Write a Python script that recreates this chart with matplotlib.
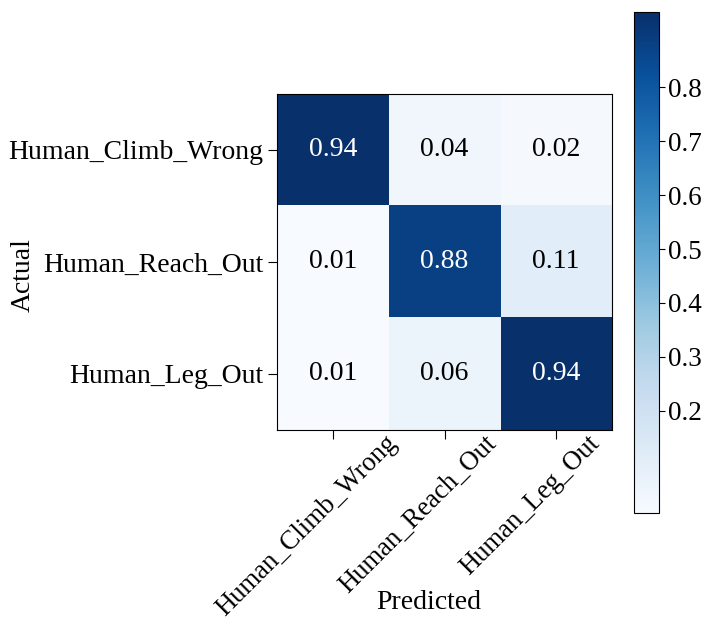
import numpy as np
import matplotlib
matplotlib.use("Agg")
import matplotlib.pyplot as plt
from matplotlib.transforms import ScaledTranslation

plt.rcParams['font.family'] = ['Liberation Serif', 'DejaVu Serif']
plt.rcParams['font.size'] = 20
plt.rcParams['xtick.major.size'] = 6.5
plt.rcParams['ytick.major.size'] = 6.5

classes = ["Human_Climb_Wrong", "Human_Reach_Out", "Human_Leg_Out"]
conf = np.array([
    [0.94, 0.04, 0.02],
    [0.01, 0.88, 0.11],
    [0.01, 0.06, 0.94],
])
cbar_ticks = [0.2, 0.3, 0.4, 0.5, 0.6, 0.7, 0.8]

fig = plt.figure(figsize=(7.04, 6.24), dpi=100)
ax = fig.add_axes([0.3935, 0.3109, 0.4759, 0.5385])
cax = fig.add_axes([0.9006, 0.1779, 0.0355, 0.8029])

im = ax.imshow(conf, cmap="Blues", aspect="auto")
cb = fig.colorbar(im, cax=cax)
cb.set_ticks(cbar_ticks)
cax.tick_params(length=4, pad=2.5, labelsize=19.5)

thresh = conf.max() / 2
for i in range(conf.shape[0]):
    for j in range(conf.shape[1]):
        ax.text(j, i, f"{conf[i, j]:.2f}", ha="center", va="center",
                color="white" if conf[i, j] > thresh else "black")

ax.set_xticks(range(len(classes)))
ax.set_yticks(range(len(classes)))
ax.set_xticklabels(classes, rotation=45, fontsize=19.2)
ax.set_yticklabels(classes)

# nudge the rotated class names left so they sit under their columns
shift = ScaledTranslation(-0.26, 0.13, fig.dpi_scale_trans)
for lab in ax.get_xticklabels():
    lab.set_transform(lab.get_transform() + shift)

ax.set_xlabel("Predicted")
ax.xaxis.set_label_coords(0.452, -0.475)
ax.set_ylabel("Actual")
ax.yaxis.set_label_coords(-0.72, 0.46)

fig.savefig("out.png", dpi=100)
